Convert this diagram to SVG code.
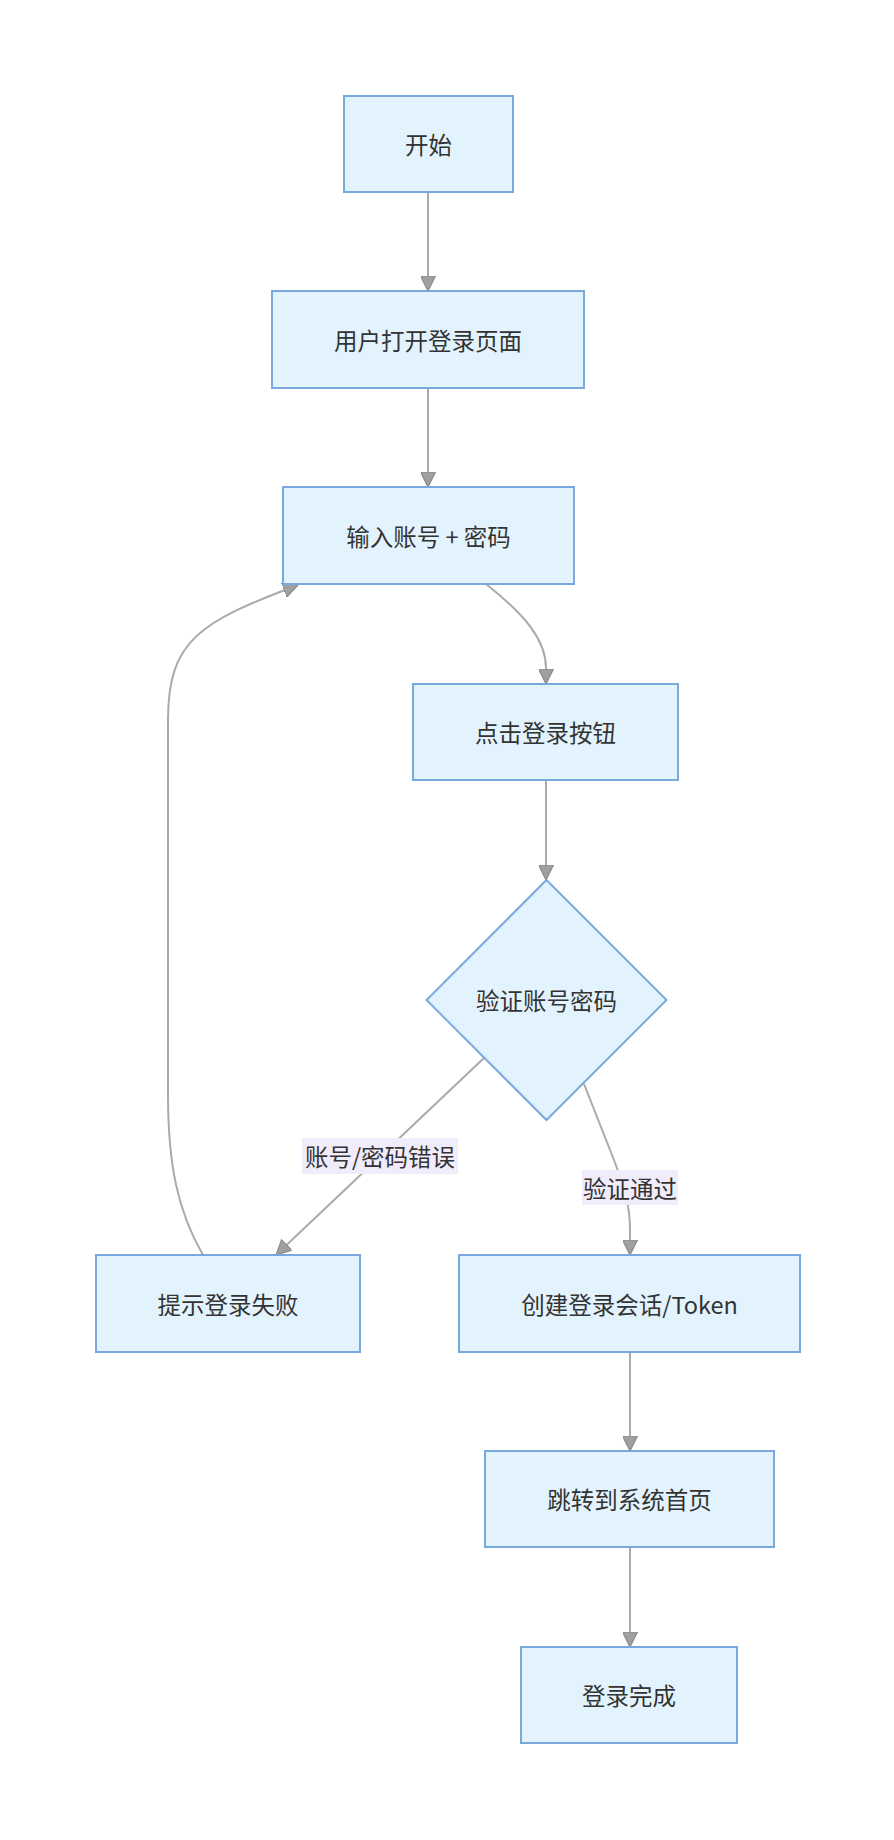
<svg xmlns="http://www.w3.org/2000/svg" width="894" height="1840" viewBox="0 0 894 1840">
<defs>
<style>
.node rect, .node polygon { fill:#E3F3FD; stroke:#79A8DA; stroke-width:2; }
.node text, .elabel text { font-family:"Noto Sans CJK SC","Noto Sans",sans-serif; font-size:23.5px; fill:#333333; text-anchor:middle; dominant-baseline:central; }
.edge { fill:none; stroke:#AAAAAA; stroke-width:2; }
.elabel rect { fill:#F1ECFB; stroke:none; }
</style>
<marker id="arrow" viewBox="0 0 10 10" refX="10" refY="5" markerUnits="userSpaceOnUse" markerWidth="15" markerHeight="15" orient="auto">
<path d="M0,0 L10,5 L0,10 z" fill="#A0A0A0" stroke="#8A8A8A" stroke-width="0.8"/>
</marker>
</defs>
<rect width="894" height="1840" fill="#FFFFFF"/>
<g id="connectors">
<path class="edge" d="M428,192 L428,291" marker-end="url(#arrow)"/>
<path class="edge" d="M428,388 L428,487" marker-end="url(#arrow)"/>
<path class="edge" d="M486,584 C525,615 546,640 546,668 L546,684" marker-end="url(#arrow)"/>
<path class="edge" d="M546,780 L546,880" marker-end="url(#arrow)"/>
<path class="edge" d="M484,1058 L276,1255" marker-end="url(#arrow)"/>
<path class="edge" d="M584,1084 L614,1160 C626,1192 630,1208 630,1230 L630,1255" marker-end="url(#arrow)"/>
<path class="edge" d="M203,1255 C178,1212 168,1165 168,1095 L168,720 C168,640 200,622 298,585" marker-end="url(#arrow)"/>
<path class="edge" d="M630,1352 L630,1451" marker-end="url(#arrow)"/>
<path class="edge" d="M630,1547 L630,1647" marker-end="url(#arrow)"/>
</g>
<g id="edge-label-fail" class="elabel">
<rect x="302" y="1138" width="156" height="36"/>
<text x="380" y="1156">账号/密码错误</text>
</g>
<g id="edge-label-pass" class="elabel">
<rect x="582" y="1170" width="96" height="35"/>
<text x="630" y="1188">验证通过</text>
</g>
<g id="start" class="node">
<rect x="344" y="96" width="169" height="96"/>
<text x="428.5" y="144">开始</text>
</g>
<g id="open-page" class="node">
<rect x="272" y="291" width="312" height="97"/>
<text x="428" y="339.5">用户打开登录页面</text>
</g>
<g id="input" class="node">
<rect x="283" y="487" width="291" height="97"/>
<text x="428.5" y="535.5">输入账号 + 密码</text>
</g>
<g id="click" class="node">
<rect x="413" y="684" width="265" height="96"/>
<text x="545.5" y="732">点击登录按钮</text>
</g>
<g id="verify" class="node">
<polygon points="546.5,880 666.5,1000 546.5,1120 426.5,1000"/>
<text x="546.5" y="1000">验证账号密码</text>
</g>
<g id="fail" class="node">
<rect x="96" y="1255" width="264" height="97"/>
<text x="228" y="1303.5">提示登录失败</text>
</g>
<g id="session" class="node">
<rect x="459" y="1255" width="341" height="97"/>
<text x="629.5" y="1303.5">创建登录会话/Token</text>
</g>
<g id="home" class="node">
<rect x="485" y="1451" width="289" height="96"/>
<text x="629.5" y="1499">跳转到系统首页</text>
</g>
<g id="done" class="node">
<rect x="521" y="1647" width="216" height="96"/>
<text x="629" y="1695">登录完成</text>
</g>
</svg>
